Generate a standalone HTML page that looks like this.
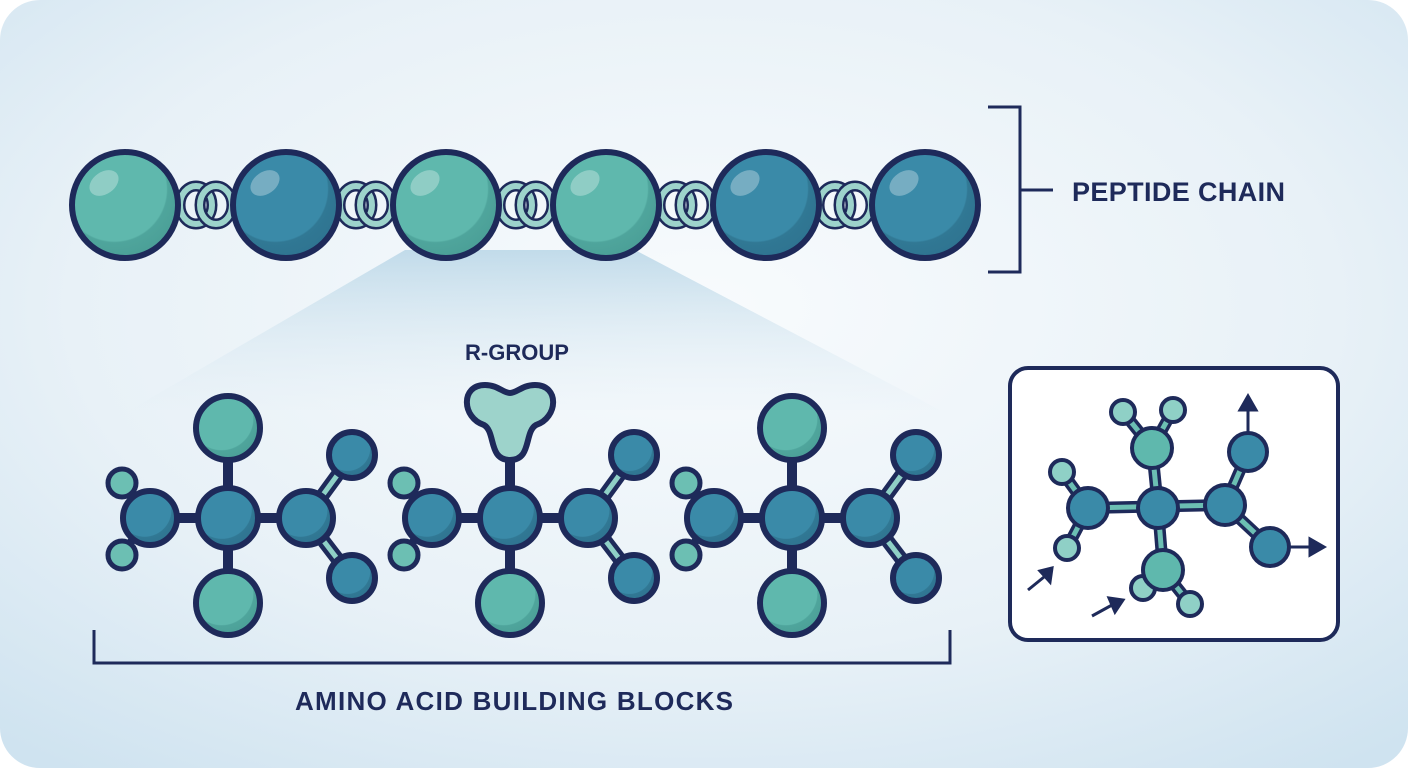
<!DOCTYPE html>
<html><head><meta charset="utf-8"><style>
html,body{margin:0;padding:0;width:1408px;height:768px;overflow:hidden;background:#fff}
svg{display:block}
text{font-family:"Liberation Sans",sans-serif;fill:#1e2a5a;font-weight:bold}
</style></head><body>
<svg width="1408" height="768" viewBox="0 0 1408 768" xmlns="http://www.w3.org/2000/svg">
<defs>
<radialGradient id="bg" cx="0.5" cy="0.4" r="0.75">
<stop offset="0" stop-color="#f8fbfd"/><stop offset="0.6" stop-color="#e8f1f7"/><stop offset="1" stop-color="#cfe3f0"/>
</radialGradient>
<linearGradient id="fan" x1="0" y1="0" x2="0" y2="1">
<stop offset="0" stop-color="#bcd8e8" stop-opacity="0.9"/><stop offset="1" stop-color="#e8f1f7" stop-opacity="0.2"/>
</linearGradient>
<radialGradient id="shadeT" cx="0.4" cy="0.35" r="0.7">
<stop offset="0.7" stop-color="#5fb8ad"/><stop offset="0.72" stop-color="#4fa59c"/><stop offset="1" stop-color="#4a9e96"/>
</radialGradient>
<radialGradient id="shadeB" cx="0.4" cy="0.35" r="0.7">
<stop offset="0.7" stop-color="#3a8aa8"/><stop offset="0.72" stop-color="#317894"/><stop offset="1" stop-color="#2e7390"/>
</radialGradient>
<g id="ring">
<ellipse rx="16" ry="19" fill="none" stroke="#1e2a5a" stroke-width="11"/>
<ellipse rx="16" ry="19" fill="none" stroke="#9dd3cb" stroke-width="6"/>
</g>
<g id="mol">
<line x1="-78" y1="0" x2="78" y2="0" stroke="#1e2a5a" stroke-width="10"/>
<line x1="0" y1="-90" x2="0" y2="85" stroke="#1e2a5a" stroke-width="10"/>
<line x1="78" y1="0" x2="124" y2="-63" stroke="#1e2a5a" stroke-width="14"/>
<line x1="78" y1="0" x2="124" y2="-63" stroke="#8fd0c6" stroke-width="5"/>
<line x1="78" y1="0" x2="124" y2="60" stroke="#1e2a5a" stroke-width="14"/>
<line x1="78" y1="0" x2="124" y2="60" stroke="#8fd0c6" stroke-width="5"/>
<line x1="-78" y1="0" x2="-106" y2="-35" stroke="#1e2a5a" stroke-width="8"/>
<line x1="-78" y1="0" x2="-106" y2="35" stroke="#1e2a5a" stroke-width="8"/>
<circle cx="-106" cy="-35" r="14" fill="#6cbfb3" stroke="#1e2a5a" stroke-width="5"/>
<circle cx="-106" cy="37" r="14" fill="#6cbfb3" stroke="#1e2a5a" stroke-width="5"/>
<circle cx="-78" cy="0" r="27" fill="url(#shadeB)" stroke="#1e2a5a" stroke-width="6"/>
<circle cx="78" cy="0" r="27" fill="url(#shadeB)" stroke="#1e2a5a" stroke-width="6"/>
<circle cx="124" cy="-63" r="23" fill="url(#shadeB)" stroke="#1e2a5a" stroke-width="6"/>
<circle cx="124" cy="60" r="23" fill="url(#shadeB)" stroke="#1e2a5a" stroke-width="6"/>
<circle cx="0" cy="0" r="30" fill="url(#shadeB)" stroke="#1e2a5a" stroke-width="6"/>
<circle cx="0" cy="85" r="32" fill="url(#shadeT)" stroke="#1e2a5a" stroke-width="6"/>
</g>
</defs>
<rect x="0" y="0" width="1408" height="768" rx="40" fill="url(#bg)"/>
<polygon points="405,250 635,250 940,410 130,410" fill="url(#fan)"/>
<g>
<use href="#ring" x="196" y="205"/><use href="#ring" x="216" y="205"/>
<use href="#ring" x="356" y="205"/><use href="#ring" x="376" y="205"/>
<use href="#ring" x="516" y="205"/><use href="#ring" x="536" y="205"/>
<use href="#ring" x="676" y="205"/><use href="#ring" x="696" y="205"/>
<use href="#ring" x="835" y="205"/><use href="#ring" x="855" y="205"/>
</g>
<g stroke="#1e2a5a" stroke-width="6">
<circle cx="125" cy="205" r="53" fill="url(#shadeT)"/>
<circle cx="286" cy="205" r="53" fill="url(#shadeB)"/>
<circle cx="446" cy="205" r="53" fill="url(#shadeT)"/>
<circle cx="606" cy="205" r="53" fill="url(#shadeT)"/>
<circle cx="766" cy="205" r="53" fill="url(#shadeB)"/>
<circle cx="925" cy="205" r="53" fill="url(#shadeB)"/>
</g>
<g fill="#ffffff" opacity="0.3">
<ellipse cx="104" cy="183" rx="16" ry="11" transform="rotate(-35 104 183)"/>
<ellipse cx="265" cy="183" rx="16" ry="11" transform="rotate(-35 265 183)"/>
<ellipse cx="425" cy="183" rx="16" ry="11" transform="rotate(-35 425 183)"/>
<ellipse cx="585" cy="183" rx="16" ry="11" transform="rotate(-35 585 183)"/>
<ellipse cx="745" cy="183" rx="16" ry="11" transform="rotate(-35 745 183)"/>
<ellipse cx="904" cy="183" rx="16" ry="11" transform="rotate(-35 904 183)"/>
</g>
<path d="M988 107 H1020 V272 H988 M1020 190 H1053" fill="none" stroke="#1e2a5a" stroke-width="3"/>
<text x="1072" y="201" font-size="27" textLength="213">PEPTIDE CHAIN</text>
<use href="#mol" x="228" y="518"/>
<circle cx="228" cy="428" r="32" fill="url(#shadeT)" stroke="#1e2a5a" stroke-width="6"/>
<use href="#mol" x="510" y="518"/>
<path d="M510 460 C488 460 496 432 484 425 C462 418 460 385 485 385 C498 385 503 393 510 393 C517 393 522 385 535 385 C560 385 558 418 536 425 C524 432 532 460 510 460 Z" fill="#9dd3cb" stroke="#1e2a5a" stroke-width="6"/>
<use href="#mol" x="792" y="518"/>
<circle cx="792" cy="428" r="32" fill="url(#shadeT)" stroke="#1e2a5a" stroke-width="6"/>
<text x="517" y="360" font-size="22" text-anchor="middle">R-GROUP</text>
<path d="M94 630 V663 H950 V630" fill="none" stroke="#1e2a5a" stroke-width="3"/>
<text x="514" y="710" font-size="26" text-anchor="middle" textLength="438">AMINO ACID BUILDING BLOCKS</text>
<rect x="1010" y="368" width="328" height="272" rx="18" fill="#fff" stroke="#1e2a5a" stroke-width="4"/>
<g stroke="#1e2a5a" stroke-width="12">
<line x1="1088" y1="508" x2="1225" y2="505"/>
<line x1="1158" y1="508" x2="1152" y2="448"/><line x1="1158" y1="508" x2="1163" y2="570"/>
<line x1="1225" y1="505" x2="1248" y2="452"/><line x1="1225" y1="505" x2="1270" y2="547"/>
<line x1="1088" y1="508" x2="1062" y2="472"/><line x1="1088" y1="508" x2="1067" y2="548"/>
<line x1="1152" y1="448" x2="1123" y2="412"/><line x1="1152" y1="448" x2="1173" y2="410"/>
<line x1="1163" y1="570" x2="1190" y2="604"/>
</g>
<g stroke="#6cbfb3" stroke-width="5">
<line x1="1088" y1="508" x2="1225" y2="505"/>
<line x1="1158" y1="508" x2="1152" y2="448"/><line x1="1158" y1="508" x2="1163" y2="570"/>
<line x1="1225" y1="505" x2="1248" y2="452"/><line x1="1225" y1="505" x2="1270" y2="547"/>
<line x1="1088" y1="508" x2="1062" y2="472"/><line x1="1088" y1="508" x2="1067" y2="548"/>
<line x1="1152" y1="448" x2="1123" y2="412"/><line x1="1152" y1="448" x2="1173" y2="410"/>
<line x1="1163" y1="570" x2="1190" y2="604"/>
</g>
<g stroke="#1e2a5a" stroke-width="3" fill="#1e2a5a">
<line x1="1248" y1="432" x2="1248" y2="408"/><polygon points="1240,410 1256,410 1248,396"/>
<line x1="1290" y1="547" x2="1312" y2="547"/><polygon points="1310,539 1310,555 1324,547"/>
<line x1="1028" y1="590" x2="1044" y2="577"/><polygon points="1040,571 1050,582 1052,568"/>
<line x1="1092" y1="616" x2="1112" y2="605"/><polygon points="1109,598 1115,612 1123,600"/>
</g>
<g stroke="#1e2a5a" stroke-width="4">
<circle cx="1062" cy="472" r="12" fill="#8fd0c6"/><circle cx="1067" cy="548" r="12" fill="#8fd0c6"/>
<circle cx="1123" cy="412" r="12" fill="#8fd0c6"/><circle cx="1173" cy="410" r="12" fill="#8fd0c6"/>
<circle cx="1143" cy="588" r="12" fill="#8fd0c6"/><circle cx="1190" cy="604" r="12" fill="#8fd0c6"/>
<circle cx="1088" cy="508" r="20" fill="#3a8aa8"/>
<circle cx="1158" cy="508" r="20" fill="#3a8aa8"/>
<circle cx="1225" cy="505" r="20" fill="#3a8aa8"/>
<circle cx="1248" cy="452" r="19" fill="#3a8aa8"/>
<circle cx="1270" cy="547" r="19" fill="#3a8aa8"/>
<circle cx="1152" cy="448" r="20" fill="#5fb8ad"/>
<circle cx="1163" cy="570" r="20" fill="#5fb8ad"/>
</g>
</svg>
</body></html>
